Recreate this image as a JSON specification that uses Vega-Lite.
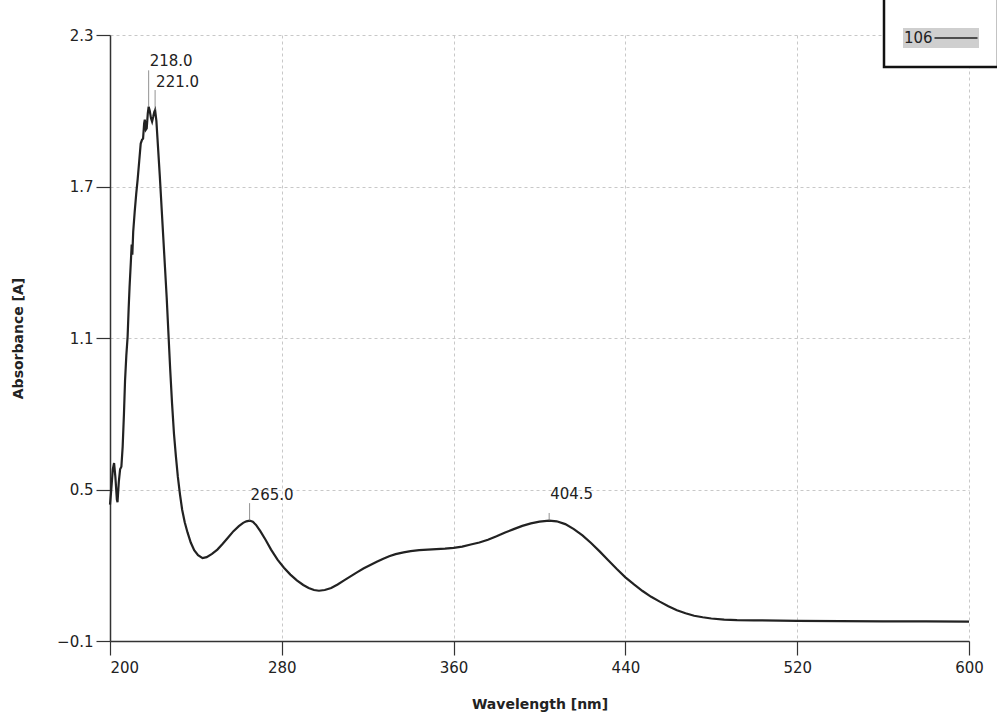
{
  "$schema": "https://vega.github.io/schema/vega-lite/v6.json",
  "autosize": {"type": "none"},
  "padding": {"left": 110, "top": 35, "right": 28, "bottom": 76},
  "width": 859,
  "height": 606,
  "background": "white",
  "config": {
    "view": {"stroke": null},
    "font": "DejaVu Sans",
    "axis": {
      "domainColor": "#333",
      "domainWidth": 1.5,
      "tickColor": "#333",
      "tickWidth": 1.2,
      "tickSize": 14,
      "gridColor": "#c8c8c8",
      "gridDash": [3, 3],
      "gridWidth": 1,
      "labelFont": "DejaVu Sans",
      "labelFontSize": 15,
      "labelColor": "#222",
      "titleFont": "DejaVu Sans",
      "titleFontSize": 14,
      "titleFontWeight": "bold",
      "titleColor": "#222"
    }
  },
  "datasets": {
    "spectrum": [
      {"wl": 200.0, "abs": 0.44}, {"wl": 200.6, "abs": 0.50}, {"wl": 201.3, "abs": 0.58}, {"wl": 201.9, "abs": 0.605},
      {"wl": 202.5, "abs": 0.55}, {"wl": 203.2, "abs": 0.46}, {"wl": 203.5, "abs": 0.45}, {"wl": 204.1, "abs": 0.53},
      {"wl": 204.7, "abs": 0.58}, {"wl": 205.3, "abs": 0.59}, {"wl": 205.9, "abs": 0.67}, {"wl": 206.5, "abs": 0.80},
      {"wl": 207.0, "abs": 0.93}, {"wl": 207.6, "abs": 1.03}, {"wl": 208.2, "abs": 1.105}, {"wl": 208.7, "abs": 1.22},
      {"wl": 209.1, "abs": 1.30}, {"wl": 209.7, "abs": 1.40}, {"wl": 210.1, "abs": 1.47}, {"wl": 210.4, "abs": 1.43},
      {"wl": 210.8, "abs": 1.52}, {"wl": 211.5, "abs": 1.60}, {"wl": 212.2, "abs": 1.67}, {"wl": 212.9, "abs": 1.73},
      {"wl": 213.6, "abs": 1.80}, {"wl": 214.3, "abs": 1.87}, {"wl": 214.9, "abs": 1.885}, {"wl": 215.4, "abs": 1.89},
      {"wl": 215.9, "abs": 1.95}, {"wl": 216.2, "abs": 1.965}, {"wl": 216.7, "abs": 1.925}, {"wl": 217.1, "abs": 1.93},
      {"wl": 217.6, "abs": 1.99}, {"wl": 218.0, "abs": 2.016}, {"wl": 218.5, "abs": 2.0}, {"wl": 219.1, "abs": 1.97},
      {"wl": 219.6, "abs": 1.957}, {"wl": 220.1, "abs": 1.975}, {"wl": 220.6, "abs": 1.995}, {"wl": 221.0, "abs": 2.003},
      {"wl": 221.6, "abs": 1.96}, {"wl": 222.4, "abs": 1.85}, {"wl": 223.2, "abs": 1.74}, {"wl": 224.0, "abs": 1.62},
      {"wl": 224.8, "abs": 1.50}, {"wl": 225.6, "abs": 1.38}, {"wl": 226.4, "abs": 1.26}, {"wl": 227.2, "abs": 1.12},
      {"wl": 228.0, "abs": 0.98}, {"wl": 228.9, "abs": 0.84}, {"wl": 229.8, "abs": 0.72}, {"wl": 230.7, "abs": 0.63},
      {"wl": 231.6, "abs": 0.55}, {"wl": 232.6, "abs": 0.48}, {"wl": 233.6, "abs": 0.42}, {"wl": 234.8, "abs": 0.37},
      {"wl": 236.1, "abs": 0.33}, {"wl": 237.6, "abs": 0.29}, {"wl": 239.2, "abs": 0.26}, {"wl": 241.0, "abs": 0.24},
      {"wl": 243.1, "abs": 0.228}, {"wl": 245.0, "abs": 0.232}, {"wl": 247.5, "abs": 0.245}, {"wl": 250.0, "abs": 0.262},
      {"wl": 252.5, "abs": 0.285}, {"wl": 255.0, "abs": 0.31}, {"wl": 257.5, "abs": 0.335}, {"wl": 260.0, "abs": 0.355},
      {"wl": 262.0, "abs": 0.368}, {"wl": 263.5, "abs": 0.374}, {"wl": 265.0, "abs": 0.377}, {"wl": 266.5, "abs": 0.372},
      {"wl": 268.0, "abs": 0.36}, {"wl": 270.0, "abs": 0.335}, {"wl": 272.5, "abs": 0.30}, {"wl": 275.0, "abs": 0.262},
      {"wl": 278.0, "abs": 0.222}, {"wl": 281.0, "abs": 0.19}, {"wl": 284.0, "abs": 0.163}, {"wl": 287.0, "abs": 0.14},
      {"wl": 290.0, "abs": 0.122}, {"wl": 292.5, "abs": 0.11}, {"wl": 295.0, "abs": 0.102}, {"wl": 297.3, "abs": 0.099},
      {"wl": 300.0, "abs": 0.102}, {"wl": 303.0, "abs": 0.11}, {"wl": 306.0, "abs": 0.124}, {"wl": 309.0, "abs": 0.14},
      {"wl": 312.0, "abs": 0.156}, {"wl": 315.0, "abs": 0.172}, {"wl": 318.0, "abs": 0.187}, {"wl": 321.0, "abs": 0.20},
      {"wl": 324.0, "abs": 0.213}, {"wl": 327.0, "abs": 0.225}, {"wl": 330.0, "abs": 0.236}, {"wl": 333.0, "abs": 0.244},
      {"wl": 336.7, "abs": 0.251}, {"wl": 340.0, "abs": 0.256}, {"wl": 344.0, "abs": 0.26}, {"wl": 348.0, "abs": 0.262},
      {"wl": 352.0, "abs": 0.264}, {"wl": 356.0, "abs": 0.266}, {"wl": 360.0, "abs": 0.269}, {"wl": 364.0, "abs": 0.274},
      {"wl": 368.0, "abs": 0.282}, {"wl": 372.0, "abs": 0.29}, {"wl": 376.0, "abs": 0.301}, {"wl": 380.0, "abs": 0.315},
      {"wl": 384.0, "abs": 0.33}, {"wl": 388.0, "abs": 0.343}, {"wl": 392.0, "abs": 0.356}, {"wl": 396.0, "abs": 0.366},
      {"wl": 400.0, "abs": 0.373}, {"wl": 404.5, "abs": 0.377}, {"wl": 408.0, "abs": 0.374}, {"wl": 412.0, "abs": 0.363},
      {"wl": 416.0, "abs": 0.343}, {"wl": 420.0, "abs": 0.318}, {"wl": 424.0, "abs": 0.288}, {"wl": 428.0, "abs": 0.255},
      {"wl": 432.0, "abs": 0.22}, {"wl": 436.0, "abs": 0.185}, {"wl": 440.0, "abs": 0.152}, {"wl": 444.0, "abs": 0.124},
      {"wl": 448.0, "abs": 0.098}, {"wl": 452.0, "abs": 0.075}, {"wl": 456.0, "abs": 0.056}, {"wl": 460.0, "abs": 0.038},
      {"wl": 464.0, "abs": 0.022}, {"wl": 468.0, "abs": 0.01}, {"wl": 472.0, "abs": 0.0}, {"wl": 476.0, "abs": -0.006},
      {"wl": 480.0, "abs": -0.011}, {"wl": 486.0, "abs": -0.015}, {"wl": 492.0, "abs": -0.017}, {"wl": 500.0, "abs": -0.018},
      {"wl": 520.0, "abs": -0.02}, {"wl": 540.0, "abs": -0.021}, {"wl": 560.0, "abs": -0.022}, {"wl": 580.0, "abs": -0.022},
      {"wl": 600.0, "abs": -0.023}
    ],
    "peaks": [
      {"wl": 218.0, "peak": 2.016, "top": 2.16, "labelY": 2.177, "label": "218.0"},
      {"wl": 221.0, "peak": 2.003, "top": 2.082, "labelY": 2.095, "label": "221.0"},
      {"wl": 265.0, "peak": 0.377, "top": 0.446, "labelY": 0.458, "label": "265.0"},
      {"wl": 404.5, "peak": 0.377, "top": 0.407, "labelY": 0.462, "label": "404.5"}
    ]
  },
  "layer": [
    {
      "data": {"name": "spectrum"},
      "mark": {"type": "line", "strokeWidth": 2.2, "interpolate": "linear"},
      "encoding": {
        "x": {
          "field": "wl", "type": "quantitative",
          "scale": {"domain": [200, 600], "nice": false, "zero": false},
          "axis": {
            "title": "Wavelength [nm]",
            "values": [200, 280, 360, 440, 520, 600],
            "labelPadding": 5,
            "titlePadding": 22,
            "labelAlign": {"condition": {"test": "datum.value == 200", "value": "left"}, "value": "center"}
          }
        },
        "y": {
          "field": "abs", "type": "quantitative",
          "scale": {"domain": [-0.1, 2.3], "nice": false, "zero": false},
          "axis": {
            "title": "Absorbance [A]",
            "values": [-0.1, 0.5, 1.1, 1.7, 2.3],
            "format": ".1f",
            "labelPadding": 3,
            "titlePadding": 31
          }
        },
        "color": {
          "datum": "106",
          "scale": {"range": ["#222222"]},
          "legend": {
            "orient": "none",
            "legendX": 774,
            "legendY": -71,
            "title": " ",
            "titleFontSize": 40,
            "titlePadding": 5,
            "clipHeight": 20,
            "labelFont": "DejaVu Sans",
            "labelFontSize": 15,
            "labelColor": "#222",
            "labelAlign": "left",
            "labelOffset": -74.5,
            "symbolOffset": 30.5,
            "symbolType": "stroke",
            "symbolSize": 1849,
            "symbolStrokeWidth": 1.5,
            "symbolStrokeColor": "#222",
            "padding": 19,
            "fillColor": "white",
            "strokeColor": "#111",
            "encode": {
              "legend": {"update": {"strokeWidth": {"value": 2.5}}},
              "entries": {"update": {"fill": {"value": "#cfcfcf"}, "width": {"value": 76}, "height": {"value": 20}}}
            }
          }
        }
      }
    },
    {
      "data": {"name": "peaks"},
      "mark": {"type": "rule", "color": "#777", "strokeWidth": 0.8},
      "encoding": {
        "x": {"field": "wl", "type": "quantitative"},
        "y": {"field": "peak", "type": "quantitative"},
        "y2": {"field": "top"}
      }
    },
    {
      "data": {"name": "peaks"},
      "mark": {"type": "text", "align": "left", "baseline": "alphabetic", "dx": 1, "fontSize": 15, "font": "DejaVu Sans", "color": "#222"},
      "encoding": {
        "x": {"field": "wl", "type": "quantitative"},
        "y": {"field": "labelY", "type": "quantitative"},
        "text": {"field": "label"}
      }
    }
  ]
}
